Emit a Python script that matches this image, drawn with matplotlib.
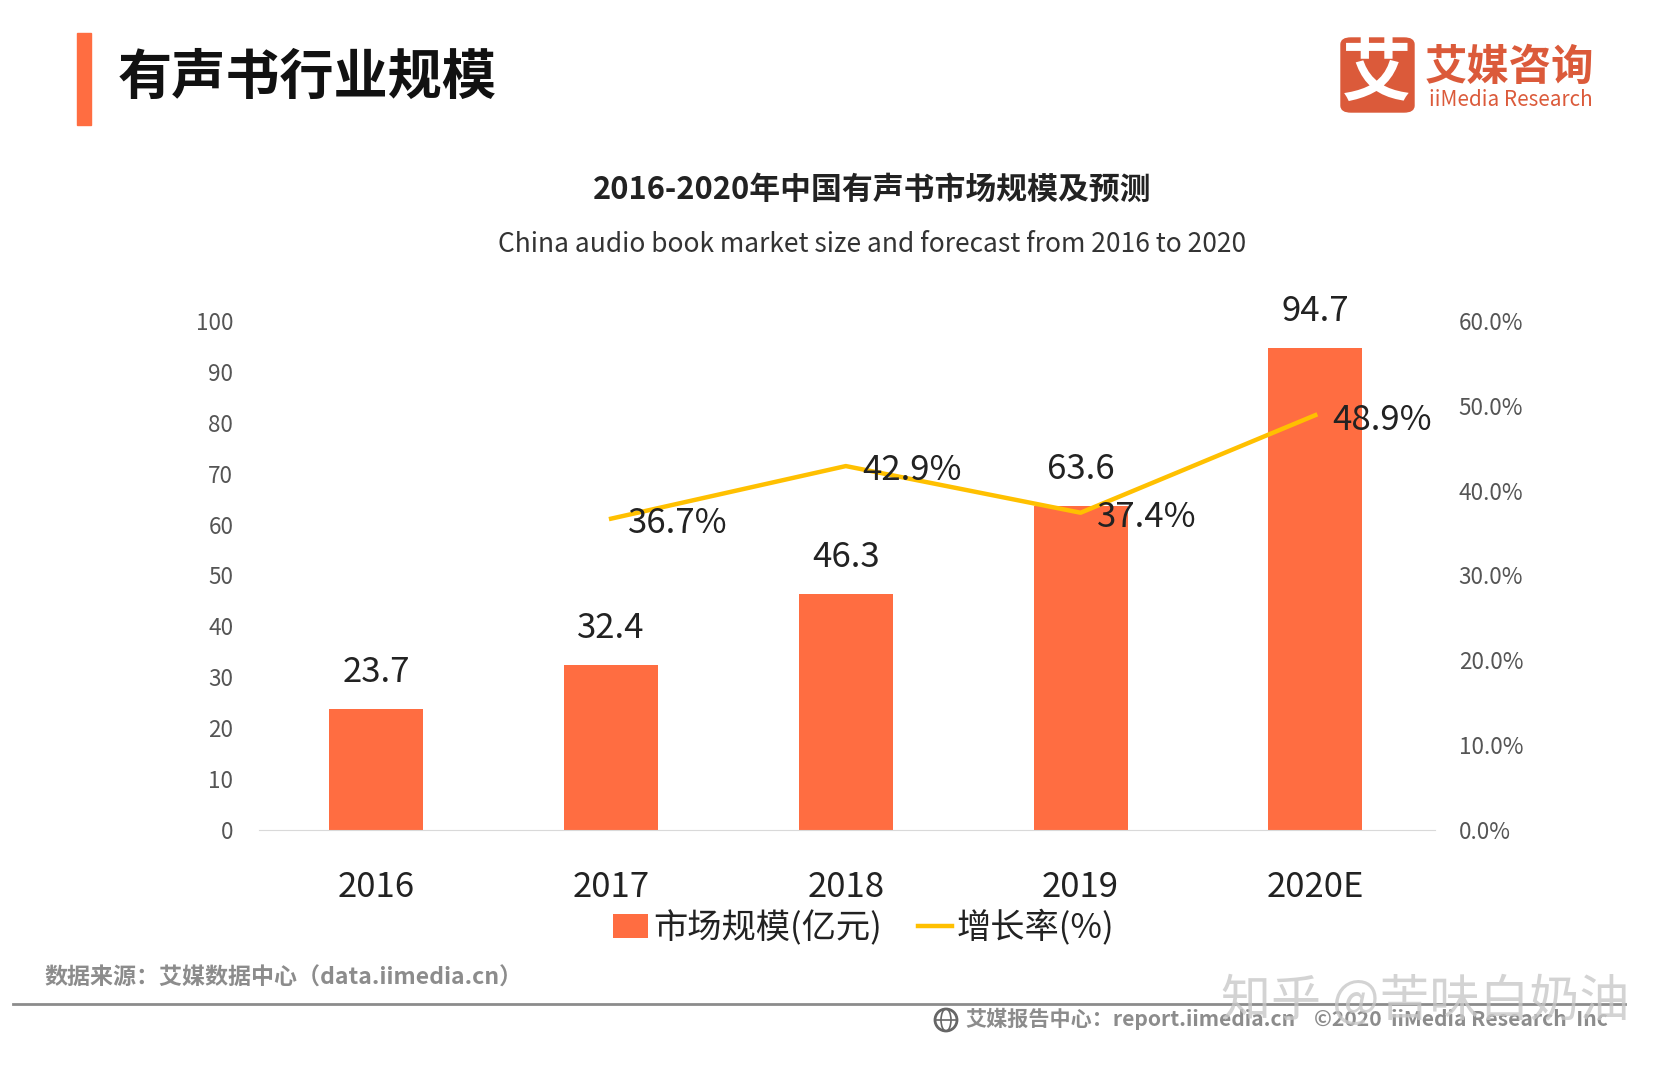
import matplotlib
matplotlib.use("Agg")
import matplotlib.pyplot as plt
from matplotlib.patches import Ellipse, FancyBboxPatch, Rectangle

plt.rcParams["font.family"] = ["Noto Sans CJK SC", "DejaVu Sans"]

YEARS = ["2016", "2017", "2018", "2019", "2020E"]
MARKET_SIZE = [23.7, 32.4, 46.3, 63.6, 94.7]
GROWTH_YEARS = [1, 2, 3, 4]
GROWTH_RATE = [36.7, 42.9, 37.4, 48.9]
LEFT_TICKS = [0, 10, 20, 30, 40, 50, 60, 70, 80, 90, 100]
RIGHT_TICKS = [0, 10, 20, 30, 40, 50, 60]

COLOR_BAR = "#FF6D41"
COLOR_LINE = "#FFC000"
COLOR_LOGO = "#DB5A3A"
COLOR_TEXT = "#222222"
COLOR_TICK = "#555555"
COLOR_FOOT = "#8C8C8C"

W, H = 1667, 1067
fig = plt.figure(figsize=(W / 100, H / 100), dpi=100)


def fx(px):
    return px / W


def fy(py):
    return 1 - py / H


# axes area in pixels: x 259..1435, y 321 (100) .. 830 (0)
ax = fig.add_axes([fx(259), fy(830), fx(1435 - 259), (830 - 321) / H])
x_pos = range(len(YEARS))
ax.bar(x_pos, MARKET_SIZE, width=0.4, color=COLOR_BAR, label="市场规模(亿元)")
ax.set_xlim(-0.5, 4.51)
ax.set_ylim(0, 100)
ax.set_yticks(LEFT_TICKS)
ax.set_xticks(list(x_pos))
ax.set_xticklabels(YEARS, fontsize=25, color=COLOR_TEXT)
ax.tick_params(axis="x", length=0, pad=28.5)
ax.tick_params(axis="y", length=0, pad=18.5, labelsize=16.2, labelcolor=COLOR_TICK)
for side in ["top", "right", "left"]:
    ax.spines[side].set_visible(False)
ax.spines["bottom"].set_color("#D9D9D9")

for i, val in zip(x_pos, MARKET_SIZE):
    ax.annotate(f"{val}", xy=(i, val), xytext=(0, 14), textcoords="offset points",
                ha="center", va="bottom", fontsize=25, color=COLOR_TEXT)

ax2 = ax.twinx()
ax2.plot(GROWTH_YEARS, GROWTH_RATE, color=COLOR_LINE, linewidth=3.2, label="增长率(%)")
ax2.set_ylim(0, 60)
ax2.set_yticks(RIGHT_TICKS)
ax2.set_yticklabels([f"{t:.1f}%" for t in RIGHT_TICKS])
ax2.tick_params(axis="y", length=0, pad=17, labelsize=16.2, labelcolor=COLOR_TICK)
for side in ["top", "right", "left", "bottom"]:
    ax2.spines[side].set_visible(False)

for i, val in zip(GROWTH_YEARS, GROWTH_RATE):
    ax2.annotate(f"{val}%", xy=(i, val), xytext=(12, -3.5), textcoords="offset points",
                 ha="left", va="center", fontsize=25, color=COLOR_TEXT)

handles = ax.get_legend_handles_labels()[0] + ax2.get_legend_handles_labels()[0]
labels = ax.get_legend_handles_labels()[1] + ax2.get_legend_handles_labels()[1]
fig.legend(handles, labels, loc="center", bbox_to_anchor=(fx(864), fy(928)), ncol=2,
           frameon=False, fontsize=24.7, labelcolor=COLOR_TEXT, handlelength=1.0,
           handletextpad=0.15, columnspacing=1.05)

# header
fig.patches.append(Rectangle((fx(77), fy(125)), 14 / W, 92 / H, transform=fig.transFigure,
                             color=COLOR_BAR))
fig.text(fx(118), fy(78), "有声书行业规模", fontsize=39, fontweight="bold",
         color="#111111", va="center")
fig.text(fx(872), fy(190), "2016-2020年中国有声书市场规模及预测", fontsize=22.2,
         fontweight="bold", color=COLOR_TEXT, ha="center", va="center")
fig.text(fx(872), fy(245), "China audio book market size and forecast from 2016 to 2020",
         fontsize=19, color="#333333", ha="center", va="center")

# logo
fig.patches.append(FancyBboxPatch((fx(1341), fy(112)), 73 / W, 74 / H,
                                  boxstyle="round,pad=0,rounding_size=0.006",
                                  transform=fig.transFigure, color=COLOR_LOGO))
fig.text(fx(1377), fy(75), "艾", fontsize=50, fontweight="bold", color="white",
         ha="center", va="center")
fig.text(fx(1425), fy(68), "艾媒咨询", fontsize=30.5, fontweight="bold", color=COLOR_LOGO,
         va="center")
fig.text(fx(1429), fy(100), "iiMedia Research", fontsize=14.9, fontweight="medium",
         color=COLOR_LOGO, va="center")

# footer
fig.text(fx(44), fy(978), "数据来源：艾媒数据中心（data.iimedia.cn）", fontsize=16.6,
         fontweight="bold", color=COLOR_FOOT, va="center")
fig.add_artist(plt.Line2D([fx(13), fx(1625)], [fy(1004), fy(1004)], color=COLOR_FOOT, lw=2))
# small globe icon in front of the report line
fig.patches.append(Ellipse((fx(946), fy(1020)), 22 / W, 22 / H, transform=fig.transFigure,
                           fill=False, edgecolor="#666666", linewidth=2))
fig.patches.append(Ellipse((fx(946), fy(1020)), 10 / W, 22 / H, transform=fig.transFigure,
                           fill=False, edgecolor="#666666", linewidth=1.2))
fig.add_artist(plt.Line2D([fx(935), fx(957)], [fy(1020), fy(1020)], color="#666666", lw=1.2))
fig.text(fx(965), fy(1019), "艾媒报告中心：report.iimedia.cn", fontsize=15.2,
         fontweight="bold", color=COLOR_FOOT, va="center")
fig.text(fx(1314), fy(1019), "©2020  iiMedia Research  Inc", fontsize=15.2,
         fontweight="bold", color=COLOR_FOOT, va="center")
fig.text(fx(1221), fy(1002), "知乎 @苦味白奶油", fontsize=36, color="#C8C8C8", alpha=0.8,
         va="center")

fig.savefig("out.png", dpi=100, facecolor="white")
